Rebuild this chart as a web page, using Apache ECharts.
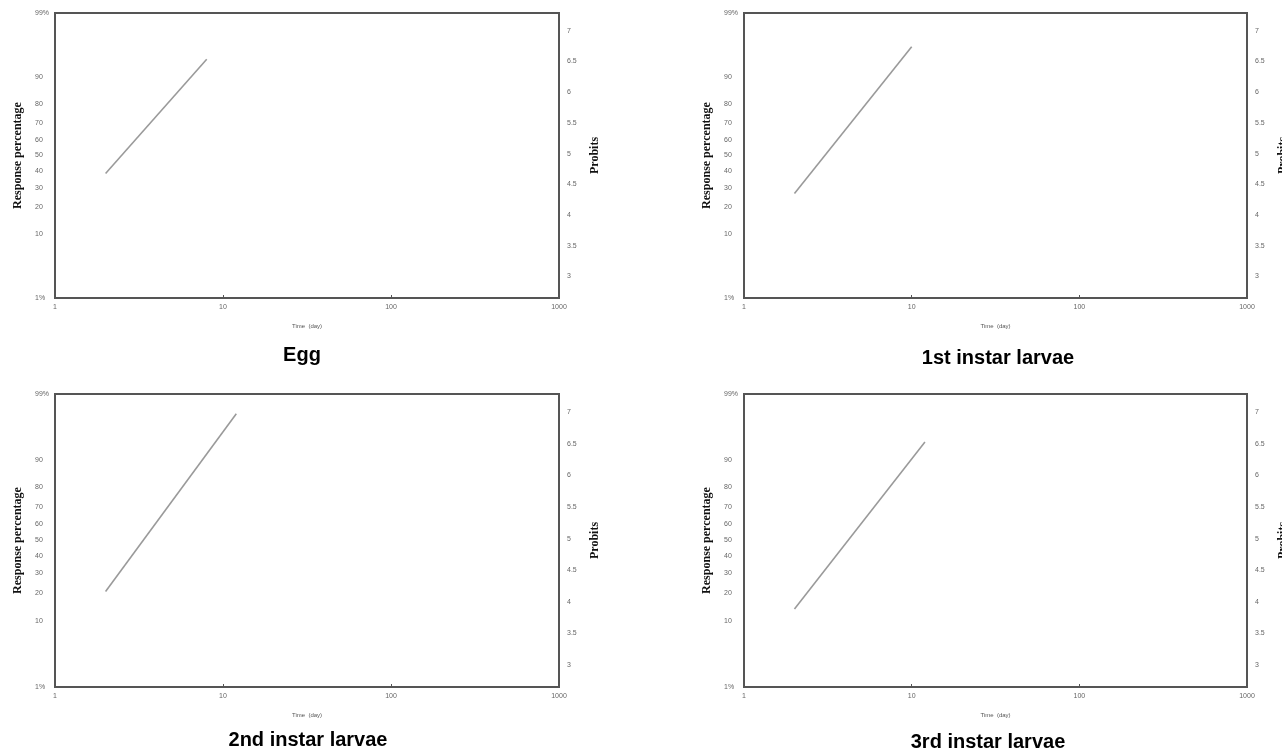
<!DOCTYPE html>
<html>
<head>
<meta charset="utf-8">
<script src="https://cdn.jsdelivr.net/npm/echarts@6/dist/echarts.min.js"></script>
<style>
html,body{margin:0;padding:0;background:#fff;}
#chart{width:1282px;height:748px;}
</style>
</head>
<body>
<div id="chart"></div>
<script>
// ---- data ----
const panelTitles = ['Egg', '1st instar larvae', '2nd instar larvae', '3rd instar larvae'];
const eggDays = [2, 8];
const eggPct = [38.5, 94.2];
const l1Days = [2, 10];
const l1Pct = [26.8, 96.2];
const l2Days = [2, 12];
const l2Pct = [20.9, 97.8];
const l3Days = [2, 12];
const l3Pct = [13.8, 94.1];
const xTicks = [1, 10, 100, 1000];
const pctTicks = [1, 10, 20, 30, 40, 50, 60, 70, 80, 90, 99];
const pctLabels = ['1%', '10', '20', '30', '40', '50', '60', '70', '80', '90', '99%'];
const probitTicks = [3, 3.5, 4, 4.5, 5, 5.5, 6, 6.5, 7];

// inverse normal CDF (Acklam) -> probit = 5 + z
function probit(pct) {
  const p = pct / 100;
  const a = [-3.969683028665376e+01, 2.209460984245205e+02, -2.759285104469687e+02, 1.383577518672690e+02, -3.066479806614716e+01, 2.506628277459239e+00];
  const b = [-5.447609879822406e+01, 1.615858368580409e+02, -1.556989798598866e+02, 6.680131188771972e+01, -1.328068155288572e+01];
  const c = [-7.784894002430293e-03, -3.223964580411365e-01, -2.400758277161838e+00, -2.549732539343734e+00, 4.374664141464968e+00, 2.938163982698783e+00];
  const d = [7.784695709041462e-03, 3.224671290700398e-01, 2.445134137142996e+00, 3.754408661907416e+00];
  const pl = 0.02425;
  let q, r, z;
  if (p < pl) {
    q = Math.sqrt(-2 * Math.log(p));
    z = (((((c[0]*q+c[1])*q+c[2])*q+c[3])*q+c[4])*q+c[5]) / ((((d[0]*q+d[1])*q+d[2])*q+d[3])*q+1);
  } else if (p <= 1 - pl) {
    q = p - 0.5; r = q * q;
    z = (((((a[0]*r+a[1])*r+a[2])*r+a[3])*r+a[4])*r+a[5])*q / (((((b[0]*r+b[1])*r+b[2])*r+b[3])*r+b[4])*r+1);
  } else {
    q = Math.sqrt(-2 * Math.log(1 - p));
    z = -(((((c[0]*q+c[1])*q+c[2])*q+c[3])*q+c[4])*q+c[5]) / ((((d[0]*q+d[1])*q+d[2])*q+d[3])*q+1);
  }
  return 5 + z;
}

const panels = [
  { days: eggDays, pct: eggPct },
  { days: l1Days, pct: l1Pct },
  { days: l2Days, pct: l2Pct },
  { days: l3Days, pct: l3Pct }
];

const grids = [
  { left: 55, top: 13, width: 504, height: 285 },
  { left: 744, top: 13, width: 503, height: 285 },
  { left: 55, top: 394, width: 504, height: 293 },
  { left: 744, top: 394, width: 503, height: 293 }
];

const pctValues = pctTicks.map(probit);
const leftMin = probit(pctTicks[0]);
const leftMax = probit(pctTicks[pctTicks.length - 1]);

const tickFont = { fontFamily: 'Liberation Sans, Arial, sans-serif', fontSize: 7, color: '#666' };

const option = {
  backgroundColor: '#fff',
  animation: false,
  grid: grids.map(g => Object.assign({
    show: true, borderColor: '#555', borderWidth: 2, backgroundColor: 'transparent',
    containLabel: false, outerBoundsMode: 'none'
  }, g)),
  xAxis: grids.map((g, i) => ({
    type: 'log', logBase: 10, min: xTicks[0], max: xTicks[xTicks.length - 1],
    gridIndex: i,
    name: 'Time  (day)', nameLocation: 'middle', nameGap: 25,
    nameTextStyle: { fontFamily: 'Liberation Sans, Arial, sans-serif', fontSize: 6, color: '#555' },
    axisLine: { show: false },
    axisTick: { show: true, inside: true, length: 3, lineStyle: { color: '#555', width: 1 } },
    axisLabel: Object.assign({ margin: 6, formatter: v => String(v) }, tickFont),
    splitLine: { show: false },
    minorTick: { show: false }
  })),
  yAxis: [],
  series: [],
  graphic: []
};

grids.forEach((g, i) => {
  option.yAxis.push({
    type: 'value', gridIndex: i, position: 'left',
    min: leftMin, max: leftMax,
    name: 'Response percentage', nameLocation: 'middle', nameRotate: 90, nameGap: 31,
    nameTextStyle: { fontFamily: 'Liberation Serif, Times New Roman, serif', fontWeight: 'bold', fontSize: 12, color: '#111' },
    axisLine: { show: false },
    axisTick: { show: false },
    splitLine: { show: false },
    axisLabel: Object.assign({
      align: 'left', margin: 20,
      customValues: pctValues,
      formatter: v => {
        let best = 0, bd = Infinity;
        pctValues.forEach((pv, k) => { const dd = Math.abs(pv - v); if (dd < bd) { bd = dd; best = k; } });
        return pctLabels[best];
      }
    }, tickFont)
  });
  option.yAxis.push({
    type: 'value', gridIndex: i, position: 'right',
    min: 2.65, max: 7.29,
    name: 'Probits', nameLocation: 'middle', nameRotate: 90, nameGap: 30,
    nameTextStyle: { fontFamily: 'Liberation Serif, Times New Roman, serif', fontWeight: 'bold', fontSize: 12, color: '#111' },
    axisLine: { show: false },
    axisTick: { show: false },
    splitLine: { show: false },
    axisLabel: Object.assign({
      margin: 8,
      customValues: probitTicks,
      formatter: v => String(v)
    }, tickFont)
  });
  const p = panels[i];
  option.series.push({
    type: 'line',
    xAxisIndex: i, yAxisIndex: i * 2,
    data: p.days.map((d, k) => [d, probit(p.pct[k])]),
    showSymbol: false, symbol: 'none',
    lineStyle: { color: '#9a9a9a', width: 1.6 },
    silent: true
  });
});

const titlePos = [[302, 355], [998, 358], [308, 740], [988, 742]];
panelTitles.forEach((t, i) => {
  option.graphic.push({
    type: 'text', x: titlePos[i][0], y: titlePos[i][1],
    style: { text: t, align: 'center', verticalAlign: 'middle',
      font: 'bold 20px "Liberation Sans", Arial, sans-serif', fill: '#000' }
  });
});

const chart = echarts.init(document.getElementById('chart'), null, { renderer: 'canvas' });
chart.setOption(option);
</script>
</body>
</html>
